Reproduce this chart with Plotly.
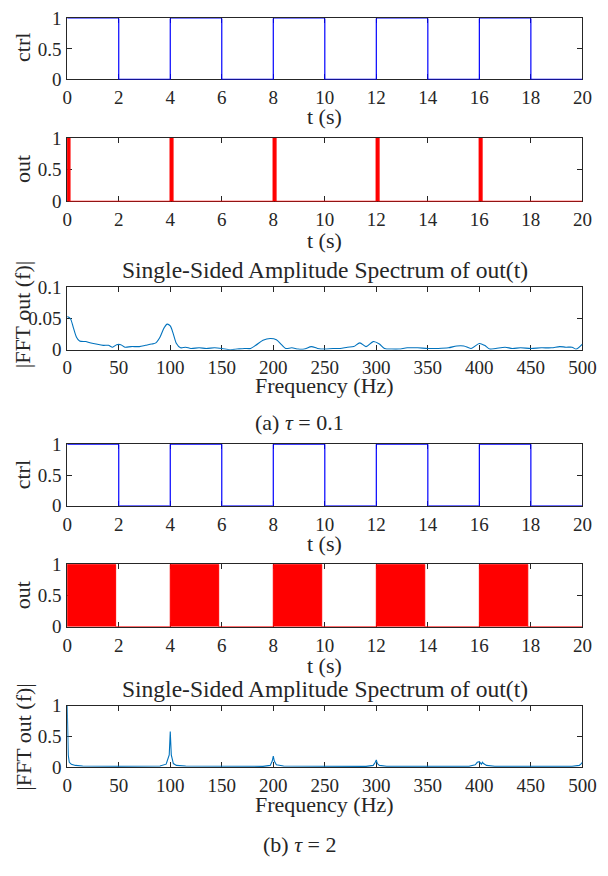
import plotly.graph_objects as go

# ---------------- data ----------------
t_max = 20
ctrl_edges = [0, 2, 4, 6, 8, 10, 12, 14, 16, 18, 20]
ctrl_levels = [1, 0, 1, 0, 1, 0, 1, 0, 1, 0]

out_a_starts = [0, 4, 8, 12, 16]
out_a_ends = [0.1, 4.1, 8.1, 12.1, 16.1]

out_b_starts = [0, 4, 8, 12, 16]
out_b_ends = [1.88, 5.88, 9.88, 13.88, 17.88]

fft_a_freq = [0, 3, 6, 9, 12, 18, 22, 28, 35, 40, 44, 48, 52, 56, 62, 70, 76, 82, 86,
              90, 94, 97, 100, 103, 106, 110, 115, 120, 128, 135, 143, 150, 158, 165,
              172, 178, 183, 190, 197, 203, 208, 212, 218, 224, 230, 237, 243, 250, 258,
              265, 272, 278, 284, 290, 297, 303, 308, 315, 322, 330, 340, 350, 360, 370,
              378, 385, 392, 400, 405, 410, 416, 425, 432, 440, 450, 460, 470, 478, 484,
              490, 494, 500]
fft_a_amp = [0.053, 0.050, 0.035, 0.020, 0.014, 0.013, 0.011, 0.009, 0.007, 0.007, 0.004,
             0.008, 0.008, 0.004, 0.005, 0.005, 0.007, 0.009, 0.011, 0.020, 0.035, 0.041,
             0.038, 0.025, 0.010, 0.003, 0.004, 0.002, 0.003, 0.002, 0.003, 0.002, 0.000,
             0.001, 0.002, 0.002, 0.007, 0.015, 0.018, 0.016, 0.008, 0.002, 0.003, 0.001,
             0.001, 0.005, 0.002, 0.001, 0.002, 0.002, 0.004, 0.005, 0.011, 0.005, 0.013,
             0.009, 0.002, 0.001, 0.001, 0.003, 0.003, 0.002, 0.002, 0.003, 0.006, 0.006,
             0.002, 0.010, 0.007, 0.001, 0.002, 0.004, 0.002, 0.003, 0.002, 0.003, 0.003,
             0.005, 0.004, 0.004, 0.001, 0.009]

fft_b_freq = [0, 0.5, 1, 2, 4, 8, 15, 50, 90, 96, 99, 100, 101, 103, 106, 115, 190, 197,
              199, 200, 201, 203, 210, 290, 297, 299, 300, 301, 303, 310, 390, 396, 398,
              400, 401, 402, 403, 404, 407, 415, 490, 497, 499, 500]
fft_b_amp = [1.0, 0.5, 0.2, 0.08, 0.05, 0.03, 0.02, 0.015, 0.02, 0.05, 0.2, 0.58, 0.2,
             0.06, 0.03, 0.02, 0.015, 0.03, 0.1, 0.18, 0.1, 0.04, 0.02, 0.015, 0.03, 0.08,
             0.12, 0.06, 0.03, 0.015, 0.015, 0.04, 0.08, 0.09, 0.07, 0.05, 0.08, 0.06, 0.03,
             0.015, 0.015, 0.03, 0.06, 0.08]

t_ticks = [0, 2, 4, 6, 8, 10, 12, 14, 16, 18, 20]
f_ticks = [0, 50, 100, 150, 200, 250, 300, 350, 400, 450, 500]

# ---------------- helpers ----------------
def ctrl_step(edges, levels):
    xs, ys = [], []
    for i, lv in enumerate(levels):
        xs += [edges[i], edges[i + 1]]
        ys += [lv, lv]
    return xs, ys

def pulse_step(starts, ends, tmax):
    xs, ys = [0], [0]
    for s, e in zip(starts, ends):
        xs += [s, s, e, e]
        ys += [0, 1, 1, 0]
    xs.append(tmax)
    ys.append(0)
    return xs, ys

PAGE_M = 8                       # default body margin of the html page
W, H = 608 - PAGE_M, 876 - 2 * PAGE_M
FONT = "Liberation Serif"
AX = "#262626"
TICK_SIZE = 19
TITLE_SIZE = 22

def px_x(p):
    return (p - PAGE_M) / W

def px_y(p):
    return 1 - (p - PAGE_M) / H

x0, x1 = 64, 596
panels = [  # top, bottom in page pixels
    (8.5, 71), (131, 196), (284, 348),
    (445, 508), (568, 632), (713, 776),
]

fig = go.Figure()

cx, cy = ctrl_step(ctrl_edges, ctrl_levels)
ax_, ay_ = pulse_step(out_a_starts, out_a_ends, t_max)
bx_, by_ = pulse_step(out_b_starts, out_b_ends, t_max)

fig.add_trace(go.Scatter(x=cx, y=cy, mode="lines", line=dict(color="#0000FF", width=1.2),
                         xaxis="x", yaxis="y", showlegend=False))
fig.add_trace(go.Scatter(x=ax_, y=ay_, mode="lines", line=dict(color="#FF0000", width=1.5),
                         fill="tozeroy", fillcolor="#FF0000",
                         xaxis="x2", yaxis="y2", showlegend=False))
fig.add_trace(go.Scatter(x=fft_a_freq, y=fft_a_amp, mode="lines",
                         line=dict(color="#0072BD", width=1.1, shape="spline", smoothing=0.8),
                         xaxis="x3", yaxis="y3", showlegend=False))
fig.add_trace(go.Scatter(x=cx, y=cy, mode="lines", line=dict(color="#0000FF", width=1.2),
                         xaxis="x4", yaxis="y4", showlegend=False))
fig.add_trace(go.Scatter(x=bx_, y=by_, mode="lines", line=dict(color="#FF0000", width=1),
                         fill="tozeroy", fillcolor="#FF0000",
                         xaxis="x5", yaxis="y5", showlegend=False))
fig.add_trace(go.Scatter(x=fft_b_freq, y=fft_b_amp, mode="lines",
                         line=dict(color="#0072BD", width=1.1),
                         xaxis="x6", yaxis="y6", showlegend=False))

axis_common = dict(
    showline=True, linecolor=AX, linewidth=1, mirror="allticks",
    ticks="inside", ticklen=5, tickcolor=AX, tickwidth=1,
    showgrid=False, zeroline=False, layer="below traces",
    tickfont=dict(family=FONT, size=TICK_SIZE, color=AX), ticklabelstandoff=1,
    ticklabeloverflow="allow", fixedrange=True,
)

layout = dict(
    width=W, height=H, margin=dict(l=0, r=0, t=0, b=0),
    paper_bgcolor="white", plot_bgcolor="white",
    font=dict(family=FONT, color=AX),
)

yinfo = [
    ([0, 1], [0, 0.5, 1]),
    ([0, 1], [0, 0.5, 1]),
    ([0, 0.1], [0, 0.05, 0.1]),
    ([0, 1], [0, 0.5, 1]),
    ([0, 1], [0, 0.5, 1]),
    ([0, 1], [0, 0.5, 1]),
]
for i, (top, bot) in enumerate(panels):
    n = "" if i == 0 else str(i + 1)
    is_fft = i in (2, 5)
    xr = [0, 500] if is_fft else [0, 20]
    xt = f_ticks if is_fft else t_ticks
    layout["xaxis" + n] = dict(axis_common, domain=[px_x(x0), px_x(x1)], range=xr,
                               tickvals=xt, anchor="y" + n)
    layout["yaxis" + n] = dict(axis_common, domain=[px_y(bot), px_y(top)],
                               range=yinfo[i][0], tickvals=yinfo[i][1], anchor="x" + n)

fig.update_layout(**layout)

ann = []
def add_text(text, xp, yp, angle=0, size=TITLE_SIZE):
    ann.append(dict(text=text, x=px_x(xp), y=px_y(yp), xref="paper", yref="paper",
                    showarrow=False, textangle=angle, xanchor="center", yanchor="middle",
                    font=dict(family=FONT, size=size, color=AX)))

# x-axis titles
add_text("t (s)", 330, 109)
add_text("t (s)", 330, 236)
add_text("Frequency (Hz)", 330, 385)
add_text("t (s)", 330, 547)
add_text("t (s)", 330, 672)
add_text("Frequency (Hz)", 330, 814)
# y-axis titles
add_text("ctrl", 18, 38, -90)
add_text("out", 18, 163, -90)
add_text("|FFT out (f)|", 18, 312, -90)
add_text("ctrl", 18, 476, -90)
add_text("out", 18, 600, -90)
add_text("|FFT out (f)|", 18, 745, -90)
# panel titles
add_text("Single-Sided Amplitude Spectrum of out(t)", 330, 266, size=23.5)
add_text("Single-Sided Amplitude Spectrum of out(t)", 330, 696, size=23.5)
# captions
add_text("(a) <i>τ</i> = 0.1", 304, 423)
add_text("(b) <i>τ</i> = 2", 304, 855)

fig.update_layout(annotations=ann)
fig.write_html("out.html", config={"displayModeBar": False})
